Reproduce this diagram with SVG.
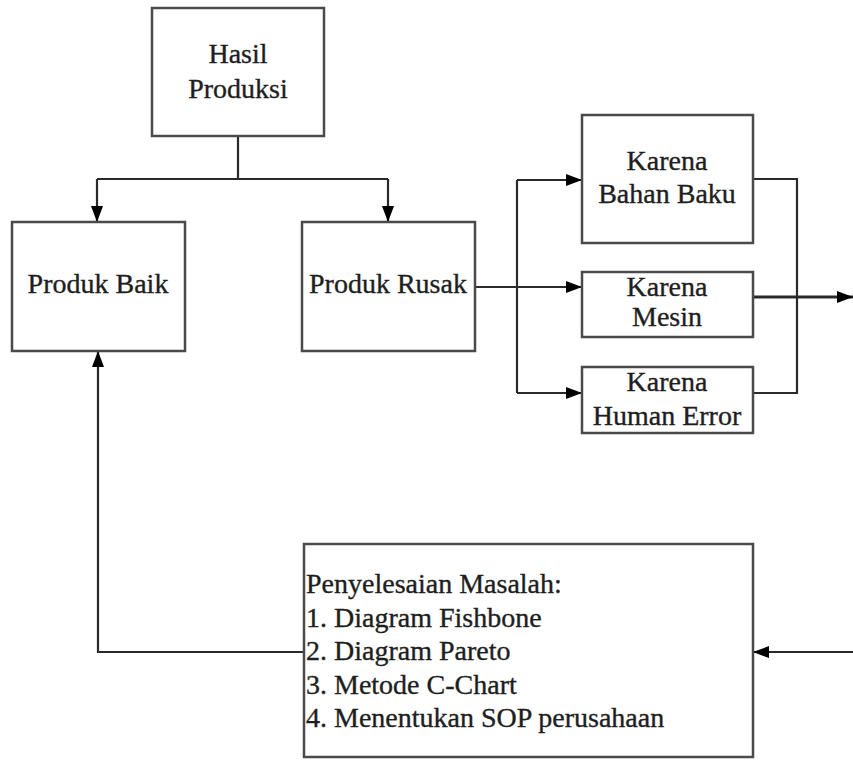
<svg xmlns="http://www.w3.org/2000/svg" width="853" height="760" viewBox="0 0 853 760">
<style>
.box{fill:#fff;stroke:#4a4a4a;stroke-width:2.5}
.t{font-family:"Liberation Serif","Times New Roman",serif;font-size:28px;fill:#1e1e1e;stroke:#1e1e1e;stroke-width:0.35}
.c{text-anchor:middle}
.ln{fill:none;stroke:#2a2a2a;stroke-width:2.2}
.bold{stroke-width:3}
</style>
<defs>
<marker id="ah" markerUnits="userSpaceOnUse" markerWidth="16" markerHeight="16" viewBox="0 0 16 16" refX="16" refY="8" orient="auto">
<path d="M0 2 L16 8 L0 14 Z" fill="#000"/>
</marker>
</defs>
<rect width="853" height="760" fill="#fff"/>
<g id="connectors">
<path class="ln" d="M238 136 V179 M97 179 H388"/>
<path class="ln" d="M97 179 V222" marker-end="url(#ah)"/>
<path class="ln" d="M388 179 V222" marker-end="url(#ah)"/>
<path class="ln" d="M475 287 H582" marker-end="url(#ah)"/>
<path class="ln" d="M517 180 V393"/>
<path class="ln" d="M517 180 H582" marker-end="url(#ah)"/>
<path class="ln" d="M517 393 H582" marker-end="url(#ah)"/>
<path class="ln" d="M753 179 H797 V393 H753"/>
<path class="ln bold" d="M753 297 H853" marker-end="url(#ah)"/>
<path class="ln" d="M853 652 H753" marker-end="url(#ah)"/>
<path class="ln" d="M304 652 H98 V351" marker-end="url(#ah)"/>
</g>
<g id="hasil-produksi">
<rect class="box" x="152" y="8" width="172" height="128"/>
<text class="t c" x="238" y="63">Hasil</text>
<text class="t c" x="238" y="98">Produksi</text>
</g>
<g id="produk-baik">
<rect class="box" x="12" y="222" width="173" height="129"/>
<text class="t c" x="98" y="293">Produk Baik</text>
</g>
<g id="produk-rusak">
<rect class="box" x="302" y="222" width="173" height="129"/>
<text class="t c" x="388" y="293">Produk Rusak</text>
</g>
<g id="karena-bahan-baku">
<rect class="box" x="582" y="115" width="171" height="128"/>
<text class="t c" x="667" y="170">Karena</text>
<text class="t c" x="667" y="203">Bahan Baku</text>
</g>
<g id="karena-mesin">
<rect class="box" x="582" y="272" width="171" height="65"/>
<text class="t c" x="667" y="296">Karena</text>
<text class="t c" x="667" y="326">Mesin</text>
</g>
<g id="karena-human-error">
<rect class="box" x="582" y="367" width="171" height="66"/>
<text class="t c" x="667" y="391">Karena</text>
<text class="t c" x="667" y="425">Human Error</text>
</g>
<g id="penyelesaian-masalah">
<rect class="box" x="304" y="544" width="449" height="213"/>
<text class="t" x="306" y="593">Penyelesaian Masalah:</text>
<text class="t" x="306" y="627">1. Diagram Fishbone</text>
<text class="t" x="306" y="660">2. Diagram Pareto</text>
<text class="t" x="306" y="694">3. Metode C-Chart</text>
<text class="t" x="306" y="727">4. Menentukan SOP perusahaan</text>
</g>
</svg>
